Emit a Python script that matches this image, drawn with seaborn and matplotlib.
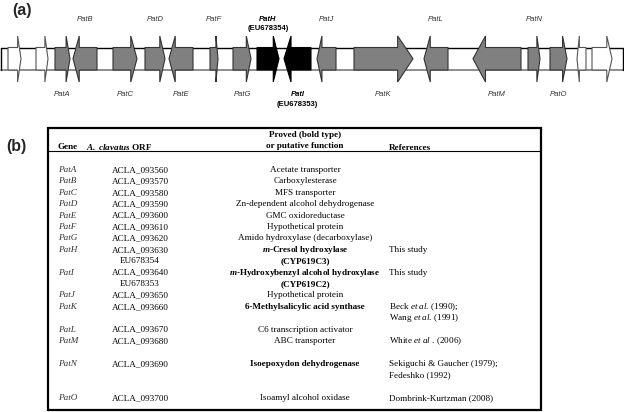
import numpy as np
import matplotlib.pyplot as plt
from matplotlib.patches import Polygon, Rectangle
import seaborn as sns

# (a) gene cluster map, positions along the cluster (map units)
gene_names = ["", "", "PatA", "PatB", "PatC", "PatD", "PatE", "PatF", "PatG", "PatH",
              "PatI", "PatJ", "PatK", "PatL", "PatM", "PatN", "PatO", "", ""]
gene_start = [8, 36, 55, 73, 113, 145, 169, 210, 233, 257, 284, 317, 354, 424, 473, 528, 550, 577, 592]
gene_end = [21, 48, 70, 97, 137, 165, 193, 218, 251, 279, 311, 336, 413, 448, 521, 540, 567, 586, 612]
gene_strand = [1, 1, 1, -1, 1, 1, -1, 1, 1, 1, -1, -1, 1, -1, -1, 1, 1, -1, 1]
gene_kind = ["flank", "flank", "pat", "pat", "pat", "pat", "pat", "pat", "pat", "proved",
             "proved", "pat", "pat", "pat", "pat", "pat", "pat", "flank", "flank"]
accession = {"PatH": "EU678354", "PatI": "EU678353"}
cluster_end = 623

# (b) table
genes = ["PatA", "PatB", "PatC", "PatD", "PatE", "PatF", "PatG", "PatH", "PatI",
         "PatJ", "PatK", "PatL", "PatM", "PatN", "PatO"]
orfs = ["ACLA_093560", "ACLA_093570", "ACLA_093580", "ACLA_093590", "ACLA_093600",
        "ACLA_093610", "ACLA_093620", "ACLA_093630", "ACLA_093640", "ACLA_093650",
        "ACLA_093660", "ACLA_093670", "ACLA_093680", "ACLA_093690", "ACLA_093700"]
orf_extra = ["", "", "", "", "", "", "", "EU678354", "EU678353", "", "", "", "", "", ""]
functions = ["Acetate transporter", "Carboxylesterase", "MFS transporter",
             "Zn-dependent alcohol dehydrogenase", "GMC oxidoreductase", "Hypothetical protein",
             "Amido hydroxylase (decarboxylase)", r"$\mathbfit{m}$-Cresol hydroxylase",
             r"$\mathbfit{m}$-Hydroxybenzyl alcohol hydroxylase", "Hypothetical protein",
             "6-Methylsalicylic acid synthase", "C6 transcription activator", "ABC transporter",
             "Isoepoxydon dehydrogenase", "Isoamyl alcohol oxidase"]
function_extra = ["", "", "", "", "", "", "", "(CYP619C3)", "(CYP619C2)", "", "", "", "", "", ""]
proved = [False, False, False, False, False, False, False, True, True, False, True,
          False, False, True, False]
references = ["", "", "", "", "", "", "", "This study", "This study", "",
              r"Beck $\mathit{et\ al}$. (1990);", "", r"White $\mathit{et\ al}$ . (2006)",
              "Sekiguchi & Gaucher (1979);", "Dombrink-Kurtzman (2008)"]
reference_extra = ["", "", "", "", "", "", "", "", "", "", r"Wang $\mathit{et\ al}$. (1991)",
                   "", "", "Fedeshko (1992)", ""]
lines_per_gene = [1, 1, 1, 1, 1, 1, 1, 2, 2, 1, 2, 1, 2, 3, 1]

sns.set_theme(style="white")
plt.rcParams["mathtext.fontset"] = "custom"
plt.rcParams["mathtext.rm"] = "Liberation Serif"
plt.rcParams["mathtext.it"] = "Liberation Serif:italic"
plt.rcParams["mathtext.bf"] = "Liberation Serif:bold"
plt.rcParams["mathtext.bfit"] = "Liberation Serif:italic:bold"

fig = plt.figure(figsize=(6.24, 4.12), dpi=100)
ax = fig.add_axes([0, 0, 1, 1])
ax.set_xlim(0, 624)
ax.set_ylim(412, 0)
ax.axis("off")

# ---- (a) ----
y_top, y_bot, head_top, head_bot = 47.5, 70, 36, 82
y_mid = (y_top + y_bot) / 2
ax.plot([1, cluster_end], [y_top, y_top], color="black", lw=1.0, zorder=1)
ax.plot([1, cluster_end], [y_bot, y_bot], color="#7a7a7a", lw=1.2, zorder=1)
ax.plot([1, 1], [y_top, y_bot], color="black", lw=1.0, zorder=1)
ax.plot([cluster_end, cluster_end], [y_top, y_bot], color="black", lw=1.0, zorder=1)

fills = {"flank": "white", "pat": "#808080", "proved": "black"}
edges = {"flank": "#555555", "pat": "#333333", "proved": "black"}
for s, e, d, k in zip(gene_start, gene_end, gene_strand, gene_kind):
    hl = 0.26 * (e - s)
    if d > 0:
        tail, tip = s, e
        neck = e - hl
    else:
        tail, tip = e, s
        neck = s + hl
    pts = [(tail, y_bot), (neck, y_bot), (neck, head_bot), (tip, y_mid),
           (neck, head_top), (neck, y_top), (tail, y_top)]
    ax.add_patch(Polygon(pts, closed=True, facecolor=fills[k], edgecolor=edges[k],
                         lw=0.8, zorder=2))

pat_idx = [i for i, n in enumerate(gene_names) if n]
for j, i in enumerate(pat_idx):
    name = gene_names[i]
    xc = (gene_start[i] + gene_end[i]) / 2
    above = j % 2 == 1
    y = 19 if above else 94.5
    bold = name in accession
    ax.text(xc, y, name, ha="center", va="center", fontsize=5.5, style="italic",
            fontweight="bold" if bold else "normal", family="Liberation Sans",
            color="black" if bold else "#333333")
    if bold:
        ax.text(xc, y + 9.5, "(" + accession[name] + ")", ha="center", va="center",
                fontsize=5.5, fontweight="bold", family="Liberation Sans", color="black")

ax.text(12, 10, "(a)", ha="left", va="center", fontsize=11.5, fontweight="bold",
        family="Liberation Sans")
ax.text(6, 147, "(b)", ha="left", va="center", fontsize=11.5, fontweight="bold",
        family="Liberation Sans")

# ---- (b) ----
ax.add_patch(Rectangle((48, 128), 493, 282, facecolor="none", edgecolor="black", lw=1.6, zorder=3))
ax.plot([48, 541], [151, 151], color="black", lw=0.8)

x_gene, x_orf, x_func, x_ref = 58, 140, 305, 389
row0, pitch = 170, 11.4
serif = dict(family="Liberation Serif", fontsize=6.6, va="center", color="black")

ax.text(x_gene, 147, "Gene", ha="left", fontweight="bold", **serif)
ax.text(86, 147, r"$\mathbfit{A.\ clavatus}$ ORF", ha="left", fontweight="bold", **serif)
ax.text(x_func, 135, "Proved (bold type)", ha="center", fontweight="bold", **serif)
ax.text(x_func, 146, "or putative function", ha="center", fontweight="bold", **serif)
ax.text(x_ref, 147.5, "References", ha="left", fontweight="bold", **serif)

rows = np.concatenate([[0], np.cumsum(lines_per_gene)[:-1]])
for r, g, o, o2, f, f2, p, ref, ref2 in zip(rows, genes, orfs, orf_extra, functions,
                                           function_extra, proved, references, reference_extra):
    y = row0 + pitch * r
    fw = "bold" if p else "normal"
    ax.text(x_gene, y, g, ha="left", style="italic", **{**serif, "color": "#333333"})
    ax.text(x_orf, y, o, ha="center", **serif)
    ax.text(x_func, y, f, ha="center", fontweight=fw, **serif)
    ax.text(x_ref, y, ref, ha="left", **serif)
    y2 = y + pitch
    if o2:
        ax.text(x_orf, y2, o2, ha="center", **serif)
    if f2:
        ax.text(x_func, y2, f2, ha="center", fontweight="bold", **serif)
    if ref2:
        ax.text(x_ref, y2, ref2, ha="left", **serif)

fig.savefig("out.png", dpi=100)
